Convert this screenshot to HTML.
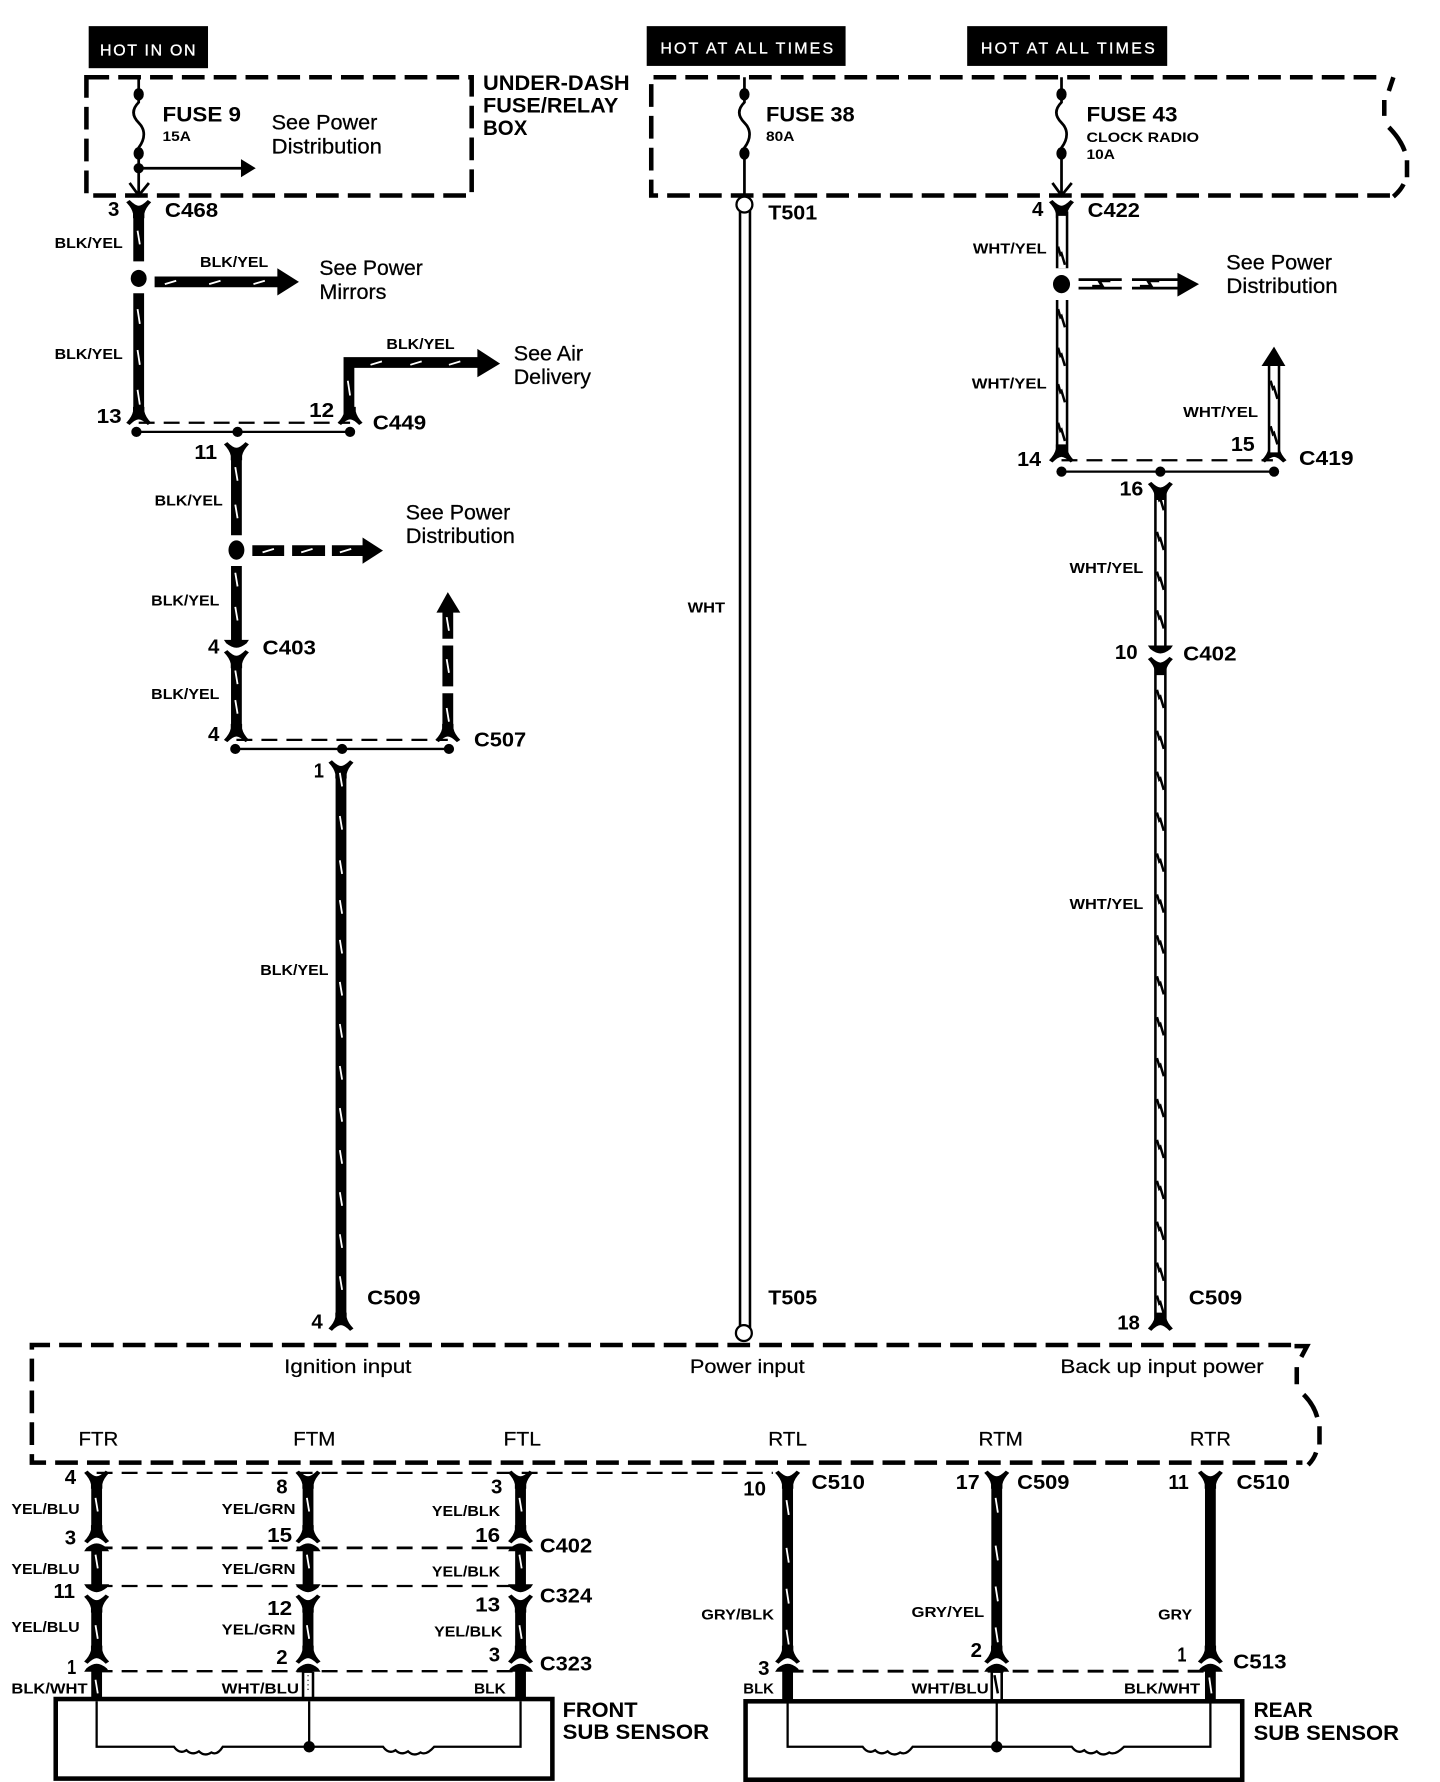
<!DOCTYPE html>
<html><head><meta charset="utf-8"><title>Wiring diagram</title>
<style>
html,body{margin:0;padding:0;background:#fff}
svg{display:block}
text{font-family:"Liberation Sans",sans-serif;fill:#000}
.w{font-size:13px;font-weight:700}
.n{font-size:18px;font-weight:700}
.c{font-size:18px;font-weight:700}
.s{font-size:19px;stroke:#000;stroke-width:.25}
.h{font-size:19px;font-weight:700}
.t{font-size:14px;fill:#fff;font-weight:400;stroke:#fff;stroke-width:.3}
.f{font-size:12px;font-weight:700}
.p{font-size:17px;stroke:#000;stroke-width:.2}
.box{fill:none;stroke:#000;stroke-width:4;stroke-dasharray:20 8}
.thin{fill:none;stroke:#000;stroke-width:2;stroke-dasharray:14 8}
.l{fill:none;stroke:#000;stroke-width:2}
.k{fill:none;stroke:#000;stroke-width:9.5}
.o{fill:none;stroke:#000;stroke-width:11}
.i{fill:none;stroke:#fff;stroke-width:6.5}
.tk{fill:none;stroke:#fff;stroke-width:1.6}
.sq{fill:none;stroke:#000;stroke-width:2.2}
</style></head><body>
<svg xmlns="http://www.w3.org/2000/svg" width="1440" height="1782" viewBox="0 0 1267 1568">
<defs>
<path id="Y" d="M-11 0 L-8 -2 Q-3 3 0 3 Q3 3 8 -2 L11 0 Q6 5 5 10 L5 14 L-5 14 L-5 10 Q-6 5 -11 0Z"/>
<path id="A" d="M-11 0 L-8 2 Q-3 -3 0 -3 Q3 -3 8 2 L11 0 Q6 -5 5 -10 L5 -14 L-5 -14 L-5 -10 Q-6 -5 -11 0Z"/>
<path id="H" d="M-11 0H11L9 3Q4 7 0 7Q-4 7 -9 3Z"/>
<path id="G" d="M-11 7H11L9 4Q4 0 0 0Q-4 0 -9 4Z"/>
</defs>

<!-- labels HOT -->
<rect x="78" y="23" width="105" height="37"/>
<rect x="569" y="23" width="175" height="35"/>
<rect x="851" y="23" width="176" height="35"/>
<text class="t" x="88" y="49" textLength="84" lengthAdjust="spacing">HOT IN ON</text>
<text class="t" x="581" y="47" textLength="152" lengthAdjust="spacing">HOT AT ALL TIMES</text>
<text class="t" x="863" y="47" textLength="153" lengthAdjust="spacing">HOT AT ALL TIMES</text>

<!-- dashed boxes -->
<rect class="box" x="76" y="68" width="339" height="104"/>
<path class="box" d="M1211 68H573V172H1223"/>
<path fill="none" stroke="#000" stroke-width="4" d="M1226 68L1222 80M1218 88V102M1222 112Q1232 122 1236 133M1238 141V156M1235 162Q1232 168 1226 173"/>
<path class="box" d="M1136 1183.500H28V1287H1146"/>
<path fill="none" stroke="#000" stroke-width="4" d="M1139 1184.500H1150L1145 1194M1141 1203V1218M1147 1227Q1156 1236 1159 1247M1161 1255V1271M1158 1278Q1156 1284 1151 1289"/>

<!-- fuses -->
<g fill="none" stroke="#000" stroke-width="2.400">
<path d="M122 68V90C116 96 116 102 122 108C128 114 128 122 122 130V172M114 161L122 172L131 161M122 148H215"/>
<path d="M655 68V90C649 96 649 102 655 108C661 114 661 122 655 130V174"/>
<path d="M934 68V90C928 96 928 102 934 108C940 114 940 122 934 130V172M926 161L934 172L943 161"/>
</g>
<ellipse cx="122" cy="83" rx="4.500" ry="5.500"/><ellipse cx="122" cy="135" rx="4.500" ry="5.500"/><circle cx="122" cy="148" r="4.500"/>
<polygon points="212,140 225,148 212,156"/>
<ellipse cx="655" cy="83" rx="4.500" ry="5.500"/><ellipse cx="655" cy="135" rx="4.500" ry="5.500"/>
<ellipse cx="934" cy="83" rx="4.500" ry="5.500"/><ellipse cx="934" cy="135" rx="4.500" ry="5.500"/>

<!-- left column -->
<use href="#Y" x="122" y="178"/>
<path class="k" d="M122 186V230M122 258V365"/>
<path class="tk" d="M121 203l2 12M121 272l2 13M121 308l2 13M121 343l2 13"/>
<ellipse cx="122" cy="245" rx="7" ry="7.500"/>
<path class="k" d="M136 248H248"/><polygon points="244,236 263,248 244,260"/>
<path class="tk" d="M145 250l10 -3M184 250l10 -3M223 250l10 -3"/>
<use href="#A" x="122" y="372"/>
<path class="thin" d="M122 372H308"/>
<path class="l" d="M120 380H308"/>
<circle cx="120" cy="380" r="4.500"/><circle cx="209" cy="380" r="4.500"/><circle cx="308" cy="380" r="4.500"/>
<use href="#A" x="308" y="372"/>
<path class="k" d="M307 366V319H422"/><polygon points="420,307 440,320 420,332"/>
<path class="tk" d="M306 335l2 13M326 321l10 -3M361 321l10 -3M395 321l10 -3"/>
<use href="#Y" x="208" y="391"/>
<path class="k" d="M208 400V471M208 498V564M208 580V645"/>
<path class="tk" d="M207 411l2 12M207 444l2 12M207 504l2 12M207 534l2 12M207 590l2 12M207 616l2 12"/>
<ellipse cx="208" cy="484" rx="7" ry="8.500"/>
<path class="k" d="M222 484.500H250M257 484.500H286M292 484.500H322"/>
<polygon points="319,473 337,484.500 319,496"/>
<path class="tk" d="M231 486l10 -3M265 486l10 -3M299 486l10 -3"/>
<use href="#H" x="208" y="563"/>
<use href="#Y" x="208" y="574"/>
<use href="#A" x="208" y="651"/>
<path class="thin" d="M208 651H394"/>
<path class="l" d="M207 659H395"/>
<circle cx="207" cy="659" r="4.500"/><circle cx="301" cy="659" r="4.500"/><circle cx="395" cy="659" r="4.500"/>
<use href="#A" x="394" y="651"/>
<path class="k" d="M394 648V610M394 604V568M394 562V535"/>
<polygon points="384,539 394,521 405,539"/>
<path class="tk" d="M393 623l2 12M393 580l2 12M393 543l2 12"/>
<use href="#Y" x="300" y="671"/>
<path class="k" d="M300 680V1160"/>
<path class="tk" d="M299 680l2 12M299 718l2 12M299 757l2 12M299 792l2 12M299 827l2 12M299 864l2 12M299 901l2 12M299 938l2 12M299 975l2 12M299 1012l2 12M299 1049l2 12M299 1086l2 12M299 1123l2 12"/>
<use href="#A" x="300" y="1169"/>

<!-- middle wire -->
<path class="o" d="M655.500 184V1170"/><path class="i" d="M655.500 184V1170"/>
<circle cx="655" cy="180" r="7" fill="#fff" stroke="#000" stroke-width="2"/>
<circle cx="654.500" cy="1173" r="7" fill="#fff" stroke="#000" stroke-width="2"/>

<!-- right column -->
<use href="#Y" x="934" y="178"/>
<path class="o" d="M934.500 186V236M934.500 264V400"/><path class="i" d="M934.500 190V236M934.500 264V400"/>
<path class="sq" d="M931 217l2 7l1 -1l3 10M931 272l2 7l1 -1l3 10M931 306l2 7l1 -1l3 10M931 338l2 7l1 -1l3 10M931 372l2 7l1 -1l3 10"/>
<ellipse cx="934" cy="250" rx="7.500" ry="8"/>
<path fill="none" stroke="#000" stroke-width="2.400" d="M949 246H987M949 253.500H987M996 246H1037M996 253.500H1037"/>
<path fill="none" stroke="#000" style="stroke-width:2.600" d="M961 252L970 252L967 247L977 247M1003 252L1013 252L1010 247L1020 247"/>
<polygon points="1036,240 1055,250 1036,261"/>
<use href="#A" x="934" y="405"/>
<path class="thin" d="M934 405H1120"/>
<path class="l" d="M934 415H1121"/>
<circle cx="934" cy="415" r="4.500"/><circle cx="1021" cy="415" r="4.500"/><circle cx="1121" cy="415" r="4.500"/>
<use href="#A" x="1121" y="405"/>
<path class="o" d="M1121 398V318"/><path class="i" d="M1121 398V318"/>
<polygon points="1110,322 1121,305 1131,322"/>
<path class="sq" d="M1118 335l2 7l1 -1l3 10M1118 375l2 7l1 -1l3 10"/>
<use href="#Y" x="1021" y="426"/>
<path class="o" d="M1021 434V568M1021 588V1164"/><path class="i" d="M1021 440V568M1021 592V1164"/>
<path class="sq" d="M1018 433l2 7l1 -1l3 10M1018 468l2 7l1 -1l3 10M1018 503l2 7l1 -1l3 10M1018 537l2 7l1 -1l3 10M1018 607l2 7l1 -1l3 10M1018 643l2 7l1 -1l3 10M1018 679l2 7l1 -1l3 10M1018 715l2 7l1 -1l3 10M1018 751l2 7l1 -1l3 10M1018 787l2 7l1 -1l3 10M1018 823l2 7l1 -1l3 10M1018 859l2 7l1 -1l3 10M1018 895l2 7l1 -1l3 10M1018 931l2 7l1 -1l3 10M1018 967l2 7l1 -1l3 10M1018 1003l2 7l1 -1l3 10M1018 1039l2 7l1 -1l3 10M1018 1075l2 7l1 -1l3 10M1018 1111l2 7l1 -1l3 10M1018 1140l2 7l1 -1l3 10"/>
<use href="#H" x="1021" y="568"/>
<use href="#Y" x="1021" y="580"/>
<use href="#A" x="1021" y="1169"/>

<!-- lower left connectors -->
<path class="thin" d="M85 1296H680"/>
<path class="thin" d="M85 1362H458" style="stroke-width:2.500"/>
<path class="thin" d="M85 1395.500H458"/>
<path class="thin" d="M85 1470.500H458"/>
<use href="#Y" x="85" y="1296"/><use href="#Y" x="271" y="1296"/><use href="#Y" x="458" y="1296"/>
<path class="k" d="M85 1306V1350M85 1362V1396M85 1410V1458M271 1306V1350M271 1362V1396M271 1410V1458M458 1306V1350M458 1362V1396M458 1410V1458"/>
<use href="#A" x="85" y="1356"/><use href="#A" x="271" y="1356"/><use href="#A" x="458" y="1356"/>
<use href="#G" x="85" y="1358"/><use href="#G" x="271" y="1358"/><use href="#G" x="458" y="1358"/>
<use href="#H" x="85" y="1394"/><use href="#H" x="271" y="1394"/><use href="#H" x="458" y="1394"/>
<use href="#Y" x="85" y="1405"/><use href="#Y" x="271" y="1405"/><use href="#Y" x="458" y="1405"/>
<use href="#A" x="85" y="1462"/><use href="#A" x="271" y="1462"/><use href="#A" x="458" y="1462"/>
<use href="#G" x="85" y="1464"/><use href="#G" x="271" y="1464"/><use href="#G" x="458" y="1464"/>
<path class="k" d="M85 1468V1495M458 1468V1495"/>
<path class="o" d="M271 1471V1495"/><path class="i" d="M271 1472V1495"/>
<path class="tk" d="M84 1318l2 12M84 1368l2 12M84 1430l2 12M84 1478l2 12M270 1318l2 12M270 1368l2 12M270 1430l2 12M457 1318l2 12M457 1368l2 12M457 1430l2 12"/>
<path d="M271 1474v16" stroke="#000" stroke-width="1" stroke-dasharray="1 3"/>

<!-- lower right connectors -->
<use href="#Y" x="693" y="1296"/><use href="#Y" x="877" y="1296"/><use href="#Y" x="1065" y="1296"/>
<path class="k" d="M693 1306V1455M877 1306V1455M1065 1306V1455"/>
<path class="tk" d="M692 1320l2 13M692 1362l2 13M692 1398l2 13M692 1434l2 13M876 1318l2 13M876 1360l2 13M876 1396l2 13M876 1432l2 13"/>
<use href="#A" x="693" y="1462"/><use href="#A" x="877" y="1462"/><use href="#A" x="1065" y="1462"/>
<path class="thin" d="M693 1470.500H1065" style="stroke-width:2.500"/>
<use href="#G" x="693" y="1464"/><use href="#G" x="877" y="1464"/><use href="#G" x="1065" y="1464"/>
<path class="k" d="M693 1468V1496M1065 1468V1496"/>
<path class="o" d="M877 1471V1496"/><path class="i" d="M877 1472V1496"/>
<path class="sq" d="M875 1474l3 16"/>
<path class="tk" d="M1064 1476l2 14"/>

<!-- sensors -->
<rect x="49" y="1495" width="437" height="70" fill="none" stroke="#000" stroke-width="4"/>
<rect x="656" y="1497" width="437" height="69" fill="none" stroke="#000" stroke-width="4"/>
<path class="l" d="M85 1497V1537H153q5 7 11 3q5 5 11 1q5 5 11 1q5 3 10 -5H337q5 7 11 3q5 5 11 1q5 5 11 1q5 3 12 -5H458V1497M272 1497V1537"/>
<circle cx="272" cy="1537" r="5"/>
<path class="l" d="M693 1498V1537H759q5 7 11 3q5 5 11 1q5 5 11 1q5 3 11 -5H943q5 7 11 3q5 5 11 1q5 5 11 1q5 3 13 -5H1065V1498M877 1498V1537"/>
<circle cx="877" cy="1537" r="5"/>

<!-- text -->
<text class="h" x="425" y="79" textLength="129" lengthAdjust="spacingAndGlyphs">UNDER-DASH</text>
<text class="h" x="425" y="99" textLength="119" lengthAdjust="spacingAndGlyphs">FUSE/RELAY</text>
<text class="h" x="425" y="119" textLength="39" lengthAdjust="spacingAndGlyphs">BOX</text>
<text class="h" x="143" y="107" textLength="69" lengthAdjust="spacingAndGlyphs">FUSE 9</text>
<text class="f" x="143" y="124" textLength="25" lengthAdjust="spacingAndGlyphs">15A</text>
<text class="h" x="674" y="107" textLength="78" lengthAdjust="spacingAndGlyphs">FUSE 38</text>
<text class="f" x="674" y="124" textLength="25" lengthAdjust="spacingAndGlyphs">80A</text>
<text class="h" x="956" y="107" textLength="80" lengthAdjust="spacingAndGlyphs">FUSE 43</text>
<text class="f" x="956" y="125" textLength="99" lengthAdjust="spacingAndGlyphs">CLOCK RADIO</text>
<text class="f" x="956" y="140" textLength="25" lengthAdjust="spacingAndGlyphs">10A</text>

<text class="s" x="239" y="114" textLength="93" lengthAdjust="spacingAndGlyphs">See Power</text>
<text class="s" x="239" y="135" textLength="97" lengthAdjust="spacingAndGlyphs">Distribution</text>
<text class="s" x="281" y="242" textLength="91" lengthAdjust="spacingAndGlyphs">See Power</text>
<text class="s" x="281" y="263" textLength="59" lengthAdjust="spacingAndGlyphs">Mirrors</text>
<text class="s" x="452" y="317" textLength="61" lengthAdjust="spacingAndGlyphs">See Air</text>
<text class="s" x="452" y="338" textLength="68" lengthAdjust="spacingAndGlyphs">Delivery</text>
<text class="s" x="357" y="457" textLength="92" lengthAdjust="spacingAndGlyphs">See Power</text>
<text class="s" x="357" y="478" textLength="96" lengthAdjust="spacingAndGlyphs">Distribution</text>
<text class="s" x="1079" y="237" textLength="93" lengthAdjust="spacingAndGlyphs">See Power</text>
<text class="s" x="1079" y="258" textLength="98" lengthAdjust="spacingAndGlyphs">Distribution</text>

<text class="w" x="48" y="218" textLength="60" lengthAdjust="spacingAndGlyphs">BLK/YEL</text>
<text class="w" x="176" y="235" textLength="60" lengthAdjust="spacingAndGlyphs">BLK/YEL</text>
<text class="w" x="48" y="316" textLength="60" lengthAdjust="spacingAndGlyphs">BLK/YEL</text>
<text class="w" x="340" y="307" textLength="60" lengthAdjust="spacingAndGlyphs">BLK/YEL</text>
<text class="w" x="136" y="445" textLength="60" lengthAdjust="spacingAndGlyphs">BLK/YEL</text>
<text class="w" x="133" y="533" textLength="60" lengthAdjust="spacingAndGlyphs">BLK/YEL</text>
<text class="w" x="133" y="615" textLength="60" lengthAdjust="spacingAndGlyphs">BLK/YEL</text>
<text class="w" x="229" y="858" textLength="60" lengthAdjust="spacingAndGlyphs">BLK/YEL</text>
<text class="w" x="605" y="539" textLength="33" lengthAdjust="spacingAndGlyphs">WHT</text>
<text class="w" x="856" y="223" textLength="65" lengthAdjust="spacingAndGlyphs">WHT/YEL</text>
<text class="w" x="855" y="342" textLength="66" lengthAdjust="spacingAndGlyphs">WHT/YEL</text>
<text class="w" x="1041" y="367" textLength="66" lengthAdjust="spacingAndGlyphs">WHT/YEL</text>
<text class="w" x="941" y="504" textLength="65" lengthAdjust="spacingAndGlyphs">WHT/YEL</text>
<text class="w" x="941" y="800" textLength="65" lengthAdjust="spacingAndGlyphs">WHT/YEL</text>

<text class="n" x="95" y="190" textLength="10" lengthAdjust="spacingAndGlyphs">3</text>
<text class="c" x="145" y="191" textLength="47" lengthAdjust="spacingAndGlyphs">C468</text>
<text class="n" x="85" y="372" textLength="22" lengthAdjust="spacingAndGlyphs">13</text>
<text class="n" x="272" y="367" textLength="22" lengthAdjust="spacingAndGlyphs">12</text>
<text class="c" x="328" y="378" textLength="47" lengthAdjust="spacingAndGlyphs">C449</text>
<text class="n" x="171" y="404" textLength="20" lengthAdjust="spacingAndGlyphs">11</text>
<text class="n" x="183" y="575" textLength="10" lengthAdjust="spacingAndGlyphs">4</text>
<text class="c" x="231" y="576" textLength="47" lengthAdjust="spacingAndGlyphs">C403</text>
<text class="n" x="183" y="652" textLength="10" lengthAdjust="spacingAndGlyphs">4</text>
<text class="c" x="417" y="657" textLength="46" lengthAdjust="spacingAndGlyphs">C507</text>
<text class="n" x="276" y="684" textLength="9" lengthAdjust="spacingAndGlyphs">1</text>
<text class="n" x="274" y="1169" textLength="10" lengthAdjust="spacingAndGlyphs">4</text>
<text class="c" x="323" y="1148" textLength="47" lengthAdjust="spacingAndGlyphs">C509</text>
<text class="c" x="676" y="193" textLength="43" lengthAdjust="spacingAndGlyphs">T501</text>
<text class="c" x="676" y="1148" textLength="43" lengthAdjust="spacingAndGlyphs">T505</text>
<text class="n" x="908" y="190" textLength="10" lengthAdjust="spacingAndGlyphs">4</text>
<text class="c" x="957" y="191" textLength="46" lengthAdjust="spacingAndGlyphs">C422</text>
<text class="n" x="895" y="410" textLength="21" lengthAdjust="spacingAndGlyphs">14</text>
<text class="n" x="1083" y="397" textLength="21" lengthAdjust="spacingAndGlyphs">15</text>
<text class="c" x="1143" y="409" textLength="48" lengthAdjust="spacingAndGlyphs">C419</text>
<text class="n" x="985" y="436" textLength="21" lengthAdjust="spacingAndGlyphs">16</text>
<text class="n" x="981" y="580" textLength="20" lengthAdjust="spacingAndGlyphs">10</text>
<text class="c" x="1041" y="581" textLength="47" lengthAdjust="spacingAndGlyphs">C402</text>
<text class="n" x="983" y="1170" textLength="20" lengthAdjust="spacingAndGlyphs">18</text>
<text class="c" x="1046" y="1148" textLength="47" lengthAdjust="spacingAndGlyphs">C509</text>

<text class="p" x="250" y="1208" textLength="112" lengthAdjust="spacingAndGlyphs">Ignition input</text>
<text class="p" x="607" y="1208" textLength="101" lengthAdjust="spacingAndGlyphs">Power input</text>
<text class="p" x="933" y="1208" textLength="179" lengthAdjust="spacingAndGlyphs">Back up input power</text>
<text class="p" x="69" y="1272" textLength="35" lengthAdjust="spacingAndGlyphs">FTR</text>
<text class="p" x="258" y="1272" textLength="37" lengthAdjust="spacingAndGlyphs">FTM</text>
<text class="p" x="443" y="1272" textLength="33" lengthAdjust="spacingAndGlyphs">FTL</text>
<text class="p" x="676" y="1272" textLength="34" lengthAdjust="spacingAndGlyphs">RTL</text>
<text class="p" x="861" y="1272" textLength="39" lengthAdjust="spacingAndGlyphs">RTM</text>
<text class="p" x="1047" y="1272" textLength="36" lengthAdjust="spacingAndGlyphs">RTR</text>

<text class="n" x="57" y="1306" textLength="10" lengthAdjust="spacingAndGlyphs">4</text>
<text class="w" x="10" y="1332" textLength="60" lengthAdjust="spacingAndGlyphs">YEL/BLU</text>
<text class="n" x="57" y="1359" textLength="10" lengthAdjust="spacingAndGlyphs">3</text>
<text class="w" x="10" y="1385" textLength="60" lengthAdjust="spacingAndGlyphs">YEL/BLU</text>
<text class="n" x="47" y="1406" textLength="19" lengthAdjust="spacingAndGlyphs">11</text>
<text class="w" x="10" y="1436" textLength="60" lengthAdjust="spacingAndGlyphs">YEL/BLU</text>
<text class="n" x="59" y="1473" textLength="8" lengthAdjust="spacingAndGlyphs">1</text>
<text class="w" x="10" y="1490" textLength="67" lengthAdjust="spacingAndGlyphs">BLK/WHT</text>
<text class="n" x="243" y="1314" textLength="10" lengthAdjust="spacingAndGlyphs">8</text>
<text class="w" x="195" y="1332" textLength="65" lengthAdjust="spacingAndGlyphs">YEL/GRN</text>
<text class="n" x="235" y="1357" textLength="22" lengthAdjust="spacingAndGlyphs">15</text>
<text class="w" x="195" y="1385" textLength="65" lengthAdjust="spacingAndGlyphs">YEL/GRN</text>
<text class="n" x="235" y="1421" textLength="22" lengthAdjust="spacingAndGlyphs">12</text>
<text class="w" x="195" y="1438" textLength="65" lengthAdjust="spacingAndGlyphs">YEL/GRN</text>
<text class="n" x="243" y="1464" textLength="10" lengthAdjust="spacingAndGlyphs">2</text>
<text class="w" x="195" y="1490" textLength="68" lengthAdjust="spacingAndGlyphs">WHT/BLU</text>
<text class="n" x="432" y="1314" textLength="10" lengthAdjust="spacingAndGlyphs">3</text>
<text class="w" x="380" y="1334" textLength="60" lengthAdjust="spacingAndGlyphs">YEL/BLK</text>
<text class="n" x="418" y="1357" textLength="22" lengthAdjust="spacingAndGlyphs">16</text>
<text class="w" x="380" y="1387" textLength="60" lengthAdjust="spacingAndGlyphs">YEL/BLK</text>
<text class="n" x="418" y="1418" textLength="22" lengthAdjust="spacingAndGlyphs">13</text>
<text class="w" x="382" y="1440" textLength="60" lengthAdjust="spacingAndGlyphs">YEL/BLK</text>
<text class="n" x="430" y="1462" textLength="10" lengthAdjust="spacingAndGlyphs">3</text>
<text class="w" x="417" y="1490" textLength="28" lengthAdjust="spacingAndGlyphs">BLK</text>
<text class="c" x="475" y="1366" textLength="46" lengthAdjust="spacingAndGlyphs">C402</text>
<text class="c" x="475" y="1410" textLength="46" lengthAdjust="spacingAndGlyphs">C324</text>
<text class="c" x="475" y="1470" textLength="46" lengthAdjust="spacingAndGlyphs">C323</text>
<text class="h" x="495" y="1511" textLength="66" lengthAdjust="spacingAndGlyphs">FRONT</text>
<text class="h" x="495" y="1530" textLength="129" lengthAdjust="spacingAndGlyphs">SUB SENSOR</text>

<text class="n" x="654" y="1316" textLength="20" lengthAdjust="spacingAndGlyphs">10</text>
<text class="c" x="714" y="1310" textLength="47" lengthAdjust="spacingAndGlyphs">C510</text>
<text class="n" x="841" y="1310" textLength="21" lengthAdjust="spacingAndGlyphs">17</text>
<text class="c" x="895" y="1310" textLength="46" lengthAdjust="spacingAndGlyphs">C509</text>
<text class="n" x="1028" y="1310" textLength="18" lengthAdjust="spacingAndGlyphs">11</text>
<text class="c" x="1088" y="1310" textLength="47" lengthAdjust="spacingAndGlyphs">C510</text>
<text class="w" x="617" y="1425" textLength="64" lengthAdjust="spacingAndGlyphs">GRY/BLK</text>
<text class="w" x="802" y="1423" textLength="64" lengthAdjust="spacingAndGlyphs">GRY/YEL</text>
<text class="w" x="1019" y="1425" textLength="30" lengthAdjust="spacingAndGlyphs">GRY</text>
<text class="n" x="667" y="1474" textLength="10" lengthAdjust="spacingAndGlyphs">3</text>
<text class="n" x="854" y="1458" textLength="10" lengthAdjust="spacingAndGlyphs">2</text>
<text class="n" x="1036" y="1462" textLength="8" lengthAdjust="spacingAndGlyphs">1</text>
<text class="c" x="1085" y="1468" textLength="47" lengthAdjust="spacingAndGlyphs">C513</text>
<text class="w" x="654" y="1490" textLength="27" lengthAdjust="spacingAndGlyphs">BLK</text>
<text class="w" x="802" y="1490" textLength="68" lengthAdjust="spacingAndGlyphs">WHT/BLU</text>
<text class="w" x="989" y="1490" textLength="67" lengthAdjust="spacingAndGlyphs">BLK/WHT</text>
<text class="h" x="1103" y="1511" textLength="52" lengthAdjust="spacingAndGlyphs">REAR</text>
<text class="h" x="1103" y="1531" textLength="128" lengthAdjust="spacingAndGlyphs">SUB SENSOR</text>
</svg>
</body></html>
